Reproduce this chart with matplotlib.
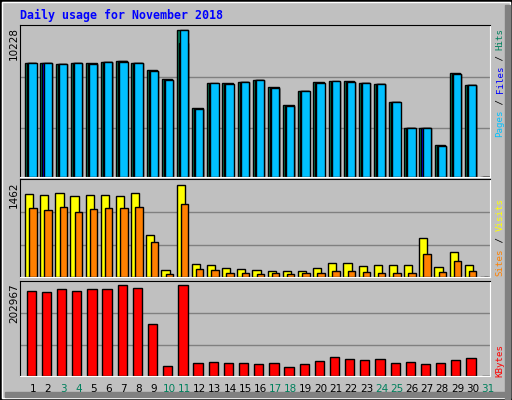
import matplotlib
matplotlib.use('Agg')
import matplotlib.pyplot as plt
from matplotlib.patches import Rectangle
import numpy as np

days = list(range(1, 32))
weekend = [3, 4, 10, 11, 17, 18, 24, 25, 31]

hits = [7932, 7932, 7862, 7932, 7932, 8002, 8071, 7932, 7445, 6819, 10228, 4801, 6541, 6541, 6610,
        6749, 6262, 5010, 5984, 6610, 6680, 6680, 6541, 6471, 5219, 3409, 3409, 2227, 7236, 6401, 0]
files = [7900, 7900, 7840, 7900, 7862, 7970, 8040, 7900, 7375, 6750, 9324, 4730, 6500, 6470, 6580,
         6720, 6190, 4940, 5960, 6540, 6640, 6610, 6520, 6450, 5200, 3400, 3400, 2160, 7170, 6380, 0]
pages = [7932, 7932, 7862, 7932, 7862, 8002, 8002, 7932, 7375, 6750, 10228, 4730, 6541, 6471, 6610,
         6749, 6190, 4940, 5984, 6541, 6680, 6610, 6541, 6471, 5219, 3409, 3409, 2160, 7166, 6401, 0]
sites = [1319, 1303, 1335, 1287, 1303, 1303, 1287, 1335, 667, 111, 1462, 207, 191, 143, 127,
         111, 95, 95, 95, 143, 222, 222, 175, 191, 191, 191, 620, 159, 397, 191, 0]
visits = [1096, 1065, 1112, 1033, 1081, 1096, 1096, 1112, 556, 48, 1160, 127, 111, 64, 64,
          48, 64, 48, 64, 64, 95, 95, 79, 64, 64, 64, 365, 79, 254, 95, 0]
kbytes = [189590, 187360, 194050, 189590, 194050, 194050, 202967, 196280, 115990, 22300, 202967,
          29000, 31230, 29000, 29000, 26770, 29000, 20070, 26770, 33460, 42380, 37920, 35690,
          37920, 29000, 31230, 26770, 29000, 35690, 40150, 0]

W, H = 512, 400
fig = plt.figure(figsize=(5.12, 4.0), dpi=100, facecolor='#C0C0C0')

def box(l, t, r, b):
    return [l / W, 1 - b / H, (r - l) / W, (b - t) / H]

# outer bevel
fig.patches.append(Rectangle((0, 0), 1, 1, transform=fig.transFigure, fill=False,
                             edgecolor='black', linewidth=2))
fig.patches.append(Rectangle((2 / W, 2 / H), 1 - 4 / W, 1 - 4 / H, transform=fig.transFigure,
                             fill=False, edgecolor='white', linewidth=1))
fig.patches.append(Rectangle((505 / W, 0), 5 / W, 1 - 5 / H, transform=fig.transFigure,
                             color='#808080'))
fig.patches.append(Rectangle((5 / W, 3 / H), 1 - 8 / W, 5 / H, transform=fig.transFigure,
                             color='#808080'))

fig.text(20 / W, 1 - 15 / H, 'Daily usage for November 2018', color='#0000FF',
         fontsize=8.4, fontweight='bold', family='DejaVu Sans Mono', va='center')

x = np.array(days)

def setup(ax, ymax):
    ax.set_facecolor('#C0C0C0')
    ax.set_xlim(0.28, 31.28)
    ax.set_ylim(0, ymax)
    ax.set_xticks([])
    ax.set_yticks([])
    for s in ['top', 'left']:
        ax.spines[s].set_color('black')
    for s in ['bottom', 'right']:
        ax.spines[s].set_color('white')
    for f in (0.325, 0.66):
        ax.axhline(f * ymax, color='#808080', linewidth=1, zorder=0)

edge = dict(edgecolor='black', linewidth=1, align='edge')

ax1 = fig.add_axes(box(20, 25, 490, 177))
setup(ax1, 10228 * 152 / 147)
ax1.bar(x - 0.37, hits, 0.7, color='#00805C', **edge)
ax1.bar(x - 0.24, files, 0.6, color='#0000FF', **edge)
ax1.bar(x - 0.17, pages, 0.55, color='#00C0FF', **edge)

ax2 = fig.add_axes(box(20, 179, 490, 277))
setup(ax2, 1462 * 98 / 91.7)
ax2.bar(x - 0.39, sites, 0.54, color='#FFFF00', **edge)
ax2.bar(x - 0.11, visits, 0.49, color='#FF8000', **edge)

ax3 = fig.add_axes(box(20, 281, 490, 376))
setup(ax3, 202967 * 95 / 91)
ax3.bar(x - 0.28, kbytes, 0.61, color='#FF0000', **edge)

# max value labels
for ytop, lab in [(27, '10228'), (181, '1462'), (283, '202967')]:
    fig.text(14 / W, 1 - ytop / H, lab, rotation=90, fontsize=7.5, va='top', ha='center')

# day labels
for d in days:
    xp = 20 + (d - 0.28 + 0.13) * 470 / 31
    fig.text(xp / W, 1 - 389 / H, str(d), fontsize=7.5, ha='center', va='center',
             color='#00805C' if d in weekend else 'black')

# right side multicoloured labels
def vlabel(ybottom, pieces, cw=5.5):
    idx = 0
    for txt, col in pieces:
        fig.text(500 / W, 1 - (ybottom - idx * cw) / H, txt, color=col, rotation=90,
                 rotation_mode='anchor', ha='left', va='center', fontsize=6.6,
                 family='DejaVu Sans Mono')
        idx += len(txt)

vlabel(137, [('Pages', '#00C0FF'), (' / ', 'black'), ('Files', '#0000FF'),
             (' / ', 'black'), ('Hits', '#00805C')], cw=5.45)
vlabel(276, [('Sites', '#FF8000'), (' / ', 'black'), ('Visits', '#FFFF00')], cw=5.6)
vlabel(377, [('KBytes', '#FF0000')], cw=6)

fig.savefig('out.png', dpi=100, facecolor=fig.get_facecolor())
